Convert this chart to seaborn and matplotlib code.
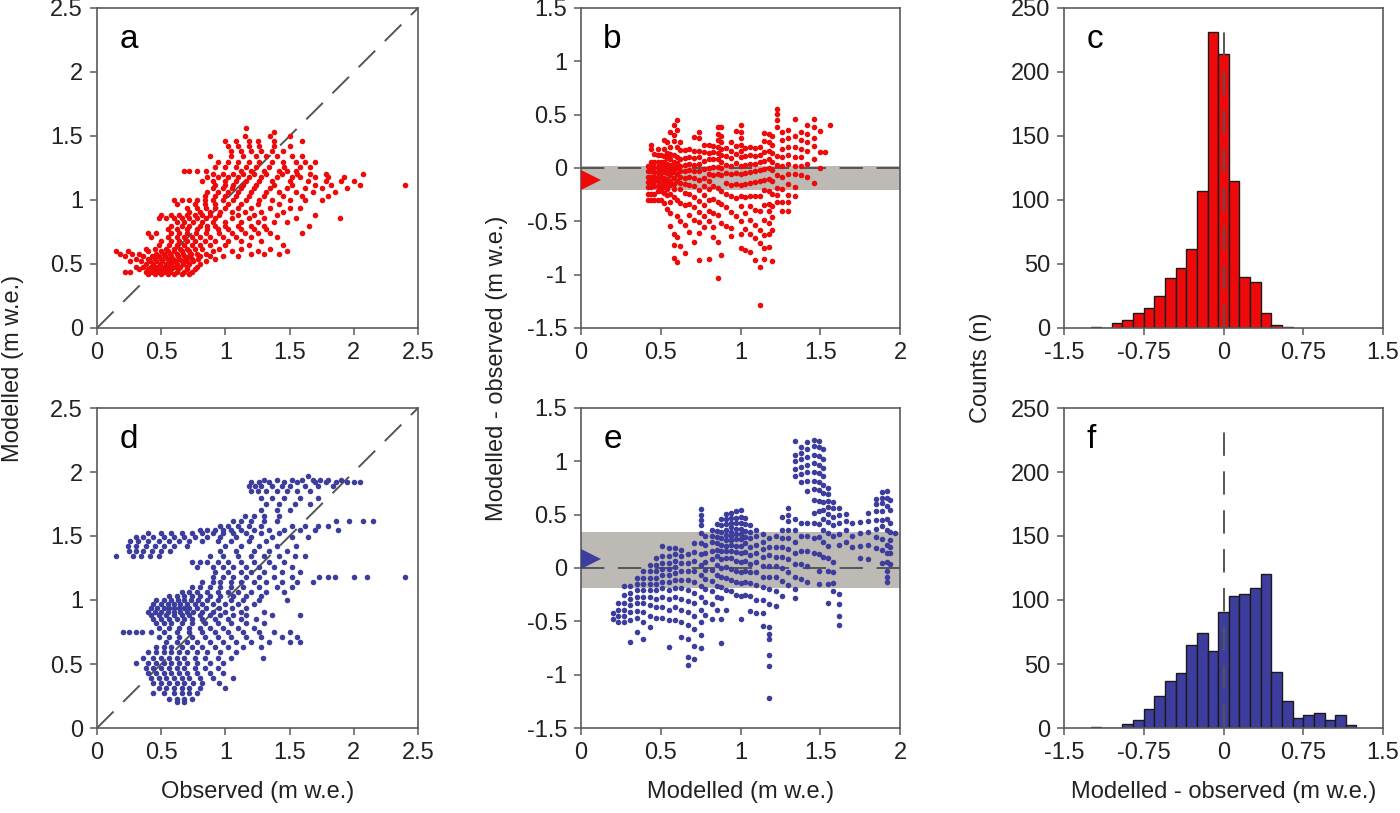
import numpy as np
import pandas as pd
import matplotlib
matplotlib.use("Agg")
import matplotlib.pyplot as plt
import matplotlib.transforms as mtransforms
import seaborn as sns

# ---- data ----
# scatter points grouped as (modelled value, [observed values along that streak])
red_rows = [
    (0.42, [0.40, 0.45, 0.50, 0.55, 0.60, 0.66, 0.72]),
    (0.44, [0.22, 0.26, 0.38, 0.43, 0.47, 0.52, 0.57, 0.62, 0.68, 0.74]),
    (0.46, [0.33, 0.40, 0.45, 0.50, 0.54, 0.58, 0.63, 0.70, 0.76]),
    (0.48, [0.30, 0.36, 0.42, 0.47, 0.52, 0.56, 0.60, 0.65, 0.70, 0.78]),
    (0.50, [0.38, 0.44, 0.49, 0.54, 0.58, 0.62, 0.67, 0.72, 0.80]),
    (0.52, [0.26, 0.34, 0.41, 0.46, 0.51, 0.56, 0.61, 0.66, 0.70, 0.75, 0.85]),
    (0.54, [0.30, 0.40, 0.45, 0.50, 0.55, 0.59, 0.64, 0.69, 0.74, 0.79, 0.92]),
    (0.56, [0.22, 0.36, 0.43, 0.48, 0.53, 0.58, 0.63, 0.68, 0.72, 0.80, 0.88, 0.98, 1.10]),
    (0.58, [0.18, 0.27, 0.33, 0.46, 0.52, 0.57, 0.62, 0.67, 0.73, 0.78, 0.85, 1.20, 1.30, 1.42]),
    (0.60, [0.15, 0.24, 0.40, 0.50, 0.55, 0.60, 0.66, 0.72, 0.90, 1.05, 1.25, 1.48]),
    (0.62, [0.38, 0.45, 0.54, 0.60, 0.65, 0.70, 0.76, 0.82, 0.95, 1.12, 1.35]),
    (0.65, [0.48, 0.56, 0.62, 0.68, 0.74, 0.80, 0.88, 1.00, 1.18, 1.45]),
    (0.68, [0.50, 0.58, 0.64, 0.70, 0.76, 0.84, 0.92, 1.02, 1.12, 1.28]),
    (0.71, [0.42, 0.55, 0.62, 0.68, 0.74, 0.80, 0.88, 0.98, 1.08, 1.20, 1.40]),
    (0.74, [0.40, 0.46, 0.58, 0.64, 0.70, 0.77, 0.85, 0.95, 1.05, 1.15, 1.25, 1.35, 1.60]),
    (0.77, [0.55, 0.62, 0.70, 0.78, 0.86, 0.94, 1.02, 1.12, 1.22, 1.32]),
    (0.80, [0.58, 0.66, 0.72, 0.80, 0.86, 0.92, 1.00, 1.10, 1.20, 1.30, 1.65]),
    (0.83, [0.62, 0.68, 0.75, 0.82, 0.90, 1.00, 1.12, 1.25, 1.38, 1.48]),
    (0.86, [0.48, 0.54, 0.60, 0.66, 0.72, 0.78, 0.85, 0.92, 1.05, 1.18, 1.30, 1.55, 1.89]),
    (0.88, [0.50, 0.58, 0.64, 0.70, 0.76, 0.82, 0.88, 0.95, 1.10, 1.22, 1.40, 1.70]),
    (0.91, [0.72, 0.80, 0.88, 0.96, 1.05, 1.15, 1.28, 1.45]),
    (0.94, [0.70, 0.78, 0.85, 0.92, 1.00, 1.10, 1.20, 1.35, 1.50, 1.58]),
    (0.97, [0.62, 0.76, 0.84, 0.92, 1.02, 1.12, 1.25, 1.42]),
    (1.00, [0.60, 0.66, 0.72, 0.78, 0.84, 0.90, 0.98, 1.06, 1.16, 1.26, 1.36, 1.50, 1.62, 1.75]),
    (1.03, [0.84, 0.92, 1.00, 1.08, 1.18, 1.30, 1.45, 1.60, 1.80]),
    (1.06, [0.86, 0.94, 1.02, 1.10, 1.20, 1.32, 1.42, 1.55, 1.68, 1.85]),
    (1.09, [0.90, 0.98, 1.05, 1.12, 1.22, 1.35, 1.48, 1.62, 1.75, 1.95]),
    (1.12, [0.92, 1.00, 1.06, 1.14, 1.24, 1.38, 1.52, 1.70, 1.82, 2.05, 2.40]),
    (1.15, [0.82, 0.90, 1.00, 1.08, 1.16, 1.26, 1.36, 1.50, 1.64, 1.78, 1.90, 2.00]),
    (1.18, [0.86, 0.94, 1.02, 1.10, 1.18, 1.28, 1.40, 1.52, 1.58, 1.70, 1.80, 1.92]),
    (1.20, [0.90, 0.98, 1.06, 1.14, 1.22, 1.32, 1.44, 1.56, 1.66, 1.78, 2.07]),
    (1.23, [0.68, 0.72, 0.78, 0.85, 1.12, 1.20, 1.30, 1.42, 1.48, 1.55]),
    (1.26, [0.92, 1.00, 1.08, 1.16, 1.24, 1.34, 1.46, 1.58, 1.66]),
    (1.30, [0.94, 1.02, 1.10, 1.18, 1.26, 1.36, 1.45, 1.55, 1.62, 1.70]),
    (1.34, [0.88, 1.04, 1.14, 1.24, 1.32, 1.40, 1.52, 1.60]),
    (1.38, [1.04, 1.12, 1.20, 1.28, 1.36, 1.45]),
    (1.42, [1.02, 1.10, 1.18, 1.26, 1.38, 1.50]),
    (1.46, [1.00, 1.08, 1.18, 1.25, 1.38, 1.60]),
    (1.50, [1.15, 1.35, 1.50]),
    (1.53, [1.38]),
    (1.56, [1.16]),
]

blue_rows = [
    (1.97, [1.64]),
    (1.94, [1.30, 1.40, 1.52, 1.60, 1.68, 1.74, 1.80, 1.90]),
    (1.92, [1.20, 1.26, 1.34, 1.46, 1.56, 1.70, 1.78, 1.86, 1.95, 2.00, 2.05]),
    (1.89, [1.18, 1.23, 1.28, 1.36, 1.44, 1.50, 1.62, 1.72, 1.84]),
    (1.85, [1.20, 1.25, 1.32, 1.40, 1.48, 1.56, 1.66]),
    (1.80, [1.28, 1.36, 1.46, 1.58, 1.72]),
    (1.75, [1.32, 1.42, 1.54, 1.66]),
    (1.70, [1.28, 1.40, 1.50]),
    (1.66, [1.15, 1.22, 1.30, 1.42]),
    (1.62, [1.06, 1.12, 1.20, 1.30, 1.40, 1.86, 1.96, 2.07, 2.15]),
    (1.58, [0.96, 1.02, 1.10, 1.18, 1.28, 1.52, 1.62, 1.72, 1.80]),
    (1.55, [0.80, 0.86, 0.92, 0.98, 1.04, 1.12, 1.22, 1.34, 1.46, 1.58, 1.70, 1.88]),
    (1.52, [0.40, 0.50, 0.58, 0.66, 0.74, 0.82, 0.90, 0.98, 1.06, 1.16, 1.28, 1.42]),
    (1.49, [0.30, 0.36, 0.44, 0.52, 0.60, 0.68, 0.76, 0.86, 0.96, 1.08, 1.20, 1.36, 1.52, 1.64]),
    (1.46, [0.26, 0.32, 0.40, 0.48, 0.56, 0.64, 0.72, 0.82, 0.94, 1.04, 1.18, 1.32]),
    (1.42, [0.24, 0.30, 0.38, 0.45, 0.52, 0.60, 0.70, 1.00, 1.12, 1.26, 1.40, 1.55]),
    (1.38, [0.25, 0.30, 0.36, 0.43, 0.50, 0.57, 0.96, 1.08, 1.22, 1.34, 1.48]),
    (1.34, [0.15, 0.28, 0.34, 0.41, 0.48, 0.88, 0.98, 1.10, 1.20, 1.30, 1.42, 1.54, 1.62]),
    (1.30, [0.74, 0.80, 0.86, 0.94, 1.02, 1.12, 1.22, 1.34, 1.46]),
    (1.26, [0.78, 0.90, 0.98, 1.06, 1.16, 1.26, 1.38, 1.52]),
    (1.22, [0.92, 1.02, 1.12, 1.20, 1.30, 1.44, 1.58]),
    (1.18, [0.90, 0.98, 1.06, 1.16, 1.26, 1.38, 1.52, 1.73, 1.80, 1.85, 2.00, 2.10, 2.40]),
    (1.14, [0.82, 0.90, 0.96, 1.04, 1.12, 1.22, 1.32, 1.44, 1.56, 1.68]),
    (1.10, [0.74, 0.80, 0.88, 0.96, 1.04, 1.14, 1.26, 1.40, 1.52]),
    (1.06, [0.66, 0.72, 0.78, 0.86, 0.94, 1.02, 1.10, 1.20, 1.32, 1.46]),
    (1.03, [0.56, 0.62, 0.68, 0.74, 0.80, 0.88, 0.96, 1.06, 1.16, 1.28]),
    (1.00, [0.46, 0.52, 0.58, 0.63, 0.68, 0.73, 0.79, 0.86, 0.94, 1.04, 1.14, 1.26, 1.48]),
    (0.97, [0.44, 0.50, 0.55, 0.60, 0.65, 0.70, 0.76, 0.82, 0.90, 1.00, 1.10, 1.22]),
    (0.94, [0.42, 0.47, 0.52, 0.56, 0.60, 0.64, 0.68, 0.72, 0.78, 0.85, 0.95, 1.05, 1.16]),
    (0.91, [0.40, 0.45, 0.50, 0.55, 0.60, 0.65, 0.70, 0.75, 0.82, 0.90, 1.00, 1.12, 1.30]),
    (0.88, [0.42, 0.48, 0.54, 0.60, 0.66, 0.72, 0.80, 0.88, 0.96, 1.06, 1.16, 1.36, 1.58]),
    (0.85, [0.44, 0.50, 0.56, 0.62, 0.68, 0.74, 0.82, 0.92, 1.02, 1.12, 1.24]),
    (0.82, [0.46, 0.52, 0.58, 0.66, 0.74, 0.84, 0.94, 1.04, 1.16, 1.30]),
    (0.78, [0.48, 0.56, 0.64, 0.72, 0.80, 0.88, 0.98, 1.10, 1.22]),
    (0.75, [0.20, 0.25, 0.30, 0.35, 0.42, 0.52, 0.62, 0.72, 0.82, 0.92, 1.02, 1.14, 1.26, 1.38, 1.50]),
    (0.71, [0.48, 0.56, 0.64, 0.74, 0.84, 0.94, 1.04, 1.16, 1.28, 1.44, 1.56]),
    (0.67, [0.54, 0.62, 0.70, 0.78, 0.88, 0.98, 1.08, 1.20, 1.34, 1.50, 1.58]),
    (0.63, [0.46, 0.52, 0.58, 0.66, 0.74, 0.82, 0.92, 1.02, 1.14, 1.28]),
    (0.59, [0.40, 0.46, 0.52, 0.58, 0.64, 0.70, 0.78, 0.86, 0.96, 1.08]),
    (0.55, [0.36, 0.44, 0.50, 0.56, 0.62, 0.68, 0.76, 0.84, 0.94, 1.04, 1.29]),
    (0.51, [0.30, 0.40, 0.46, 0.52, 0.58, 0.64, 0.70, 0.78, 0.88, 0.98]),
    (0.47, [0.38, 0.44, 0.50, 0.56, 0.62, 0.68, 0.76, 0.84, 0.94]),
    (0.43, [0.40, 0.46, 0.52, 0.58, 0.64, 0.70, 0.78, 0.88, 0.98]),
    (0.39, [0.42, 0.48, 0.54, 0.60, 0.66, 0.72, 0.80, 0.90, 1.06]),
    (0.35, [0.44, 0.50, 0.56, 0.62, 0.68, 0.75, 0.82, 0.95]),
    (0.31, [0.48, 0.54, 0.60, 0.66, 0.72, 0.80, 1.00]),
    (0.27, [0.44, 0.52, 0.60, 0.66, 0.72, 0.78]),
    (0.23, [0.56, 0.62, 0.68, 0.74]),
    (0.20, [0.62, 0.68]),
]

# histogram of modelled - observed (bin centres, counts), bin width 0.1
red_hist_centers = [-1.2, -1.1, -1.0, -0.9, -0.8, -0.7, -0.6, -0.5, -0.4, -0.3,
                    -0.2, -0.1, 0.0, 0.1, 0.2, 0.3, 0.4, 0.5, 0.6]
red_hist_counts = [1, 0, 4, 6, 12, 16, 25, 39, 47, 62,
                   107, 231, 214, 115, 40, 36, 12, 2, 1]
blue_hist_centers = [-1.2, -1.1, -1.0, -0.9, -0.8, -0.7, -0.6, -0.5, -0.4, -0.3,
                     -0.2, -0.1, 0.0, 0.1, 0.2, 0.3, 0.4, 0.5, 0.6, 0.7,
                     0.8, 0.9, 1.0, 1.1, 1.2]
blue_hist_counts = [1, 0, 0, 3, 6, 15, 25, 37, 43, 65,
                    74, 60, 91, 103, 105, 109, 120, 44, 21, 8,
                    10, 12, 6, 10, 2]
bin_width = 0.1

# mean residual (triangle) and shaded band
red_mean = -0.11
red_band = (-0.205, 0.02)
blue_mean = 0.084
blue_band = (-0.19, 0.334)
hist_zero_line_top = 238

obs_ticks = [0, 0.5, 1, 1.5, 2, 2.5]
obs_ticklabels = ["0", "0.5", "1", "1.5", "2", "2.5"]
res_ticks = [-1.5, -1, -0.5, 0, 0.5, 1, 1.5]
res_ticklabels = ["-1.5", "-1", "-0.5", "0", "0.5", "1", "1.5"]
mod_ticks = [0, 0.5, 1, 1.5, 2]
mod_ticklabels = ["0", "0.5", "1", "1.5", "2"]
hist_xticks = [-1.5, -0.75, 0, 0.75, 1.5]
hist_xticklabels = ["-1.5", "-0.75", "0", "0.75", "1.5"]
count_ticks = [0, 50, 100, 150, 200, 250]
count_ticklabels = ["0", "50", "100", "150", "200", "250"]

RED = "#ee0a0a"
BLUE = "#3d3d9e"
BAND = "#bdb9b5"
DASH = "#555555"
SPINE = "#5a5a5a"
TEXT = "#222222"
FS = 17
DOT = 16


def unpack(rows):
    obs = np.array([o for m, vals in rows for o in vals])
    mod = np.array([m for m, vals in rows for o in vals])
    return obs, mod


def style_axes(ax, xticks, xlabels, yticks, ylabels, xlim, ylim):
    ax.set_xlim(*xlim)
    ax.set_ylim(*ylim)
    ax.set_xticks(xticks)
    ax.set_xticklabels(xlabels)
    ax.set_yticks(yticks)
    ax.set_yticklabels(ylabels)
    ax.tick_params(direction="out", length=5, width=1.1, color=SPINE,
                   labelsize=FS, labelcolor=TEXT, pad=5,
                   bottom=True, left=True)
    for sp in ax.spines.values():
        sp.set_color(SPINE)
        sp.set_linewidth(1.2)
        sp.set_visible(True)
    ax.set_xlabel("")
    ax.set_ylabel("")


def panel_letter(ax, letter):
    ax.text(0.07, 0.875, letter, transform=ax.transAxes, fontsize=24,
            color="black", ha="left", va="baseline")


def scatter_panel(ax, obs, mod, color, letter):
    ax.plot([0, 2.5], [0, 2.5], color=DASH, lw=1.4, ls=(0, (12, 7)), zorder=1)
    sns.scatterplot(x=obs, y=mod, ax=ax, color=color, s=DOT, linewidth=0,
                    zorder=3, legend=False)
    style_axes(ax, obs_ticks, obs_ticklabels, obs_ticks, obs_ticklabels,
               (0, 2.5), (0, 2.5))
    panel_letter(ax, letter)


def residual_panel(ax, obs, mod, color, mean, band, letter):
    ax.axhspan(band[0], band[1], color=BAND, lw=0, zorder=0)
    ax.axhline(0, color=DASH, lw=1.4, ls=(0, (12, 7)), zorder=1)
    sns.scatterplot(x=mod, y=mod - obs, ax=ax, color=color, s=DOT, linewidth=0,
                    zorder=3, legend=False)
    offset = mtransforms.ScaledTranslation(7.5 / 72, 0, ax.figure.dpi_scale_trans)
    ax.plot([0], [mean], marker=">", ms=15, color=color, mew=0, clip_on=False,
            zorder=5, transform=ax.transData + offset)
    style_axes(ax, mod_ticks, mod_ticklabels, res_ticks, res_ticklabels,
               (0, 2), (-1.5, 1.5))
    panel_letter(ax, letter)


def hist_panel(ax, centers, counts, color, letter):
    df = pd.DataFrame({"resid": centers, "n": counts})
    lo = df["resid"].min() - bin_width / 2
    hi = df["resid"].max() + bin_width / 2
    sns.histplot(data=df, x="resid", weights="n", binwidth=bin_width,
                 binrange=(lo, hi), ax=ax, color=color, edgecolor="#1a1a1a",
                 linewidth=1.0, alpha=1, zorder=2)
    ax.plot([0, 0], [0, hist_zero_line_top], color=DASH, lw=1.4,
            ls=(0, (12, 8)), zorder=4)
    style_axes(ax, hist_xticks, hist_xticklabels, count_ticks, count_ticklabels,
               (-1.5, 1.5), (0, 250))
    panel_letter(ax, letter)


def main():
    sns.set_theme(style="white")
    plt.rcParams["font.family"] = ["Liberation Sans", "DejaVu Sans"]
    plt.rcParams["axes.unicode_minus"] = False

    red_obs, red_mod = unpack(red_rows)
    blue_obs, blue_mod = unpack(blue_rows)

    fig = plt.figure(figsize=(14, 8.13), dpi=100)
    W, H = 1400, 813
    lefts = [97, 581, 1064]
    widths = [321, 319, 319]
    tops = [8, 408]
    height = 320

    axes = {}
    for r, top in enumerate(tops):
        for c, left in enumerate(lefts):
            axes[(r, c)] = fig.add_axes([left / W, (H - top - height) / H,
                                         widths[c] / W, height / H])

    scatter_panel(axes[(0, 0)], red_obs, red_mod, RED, "a")
    residual_panel(axes[(0, 1)], red_obs, red_mod, RED, red_mean, red_band, "b")
    hist_panel(axes[(0, 2)], red_hist_centers, red_hist_counts, RED, "c")
    scatter_panel(axes[(1, 0)], blue_obs, blue_mod, BLUE, "d")
    residual_panel(axes[(1, 1)], blue_obs, blue_mod, BLUE, blue_mean, blue_band, "e")
    hist_panel(axes[(1, 2)], blue_hist_centers, blue_hist_counts, BLUE, "f")

    axes[(1, 0)].set_xlabel("Observed (m w.e.)", fontsize=FS, color=TEXT, labelpad=12)
    axes[(1, 1)].set_xlabel("Modelled (m w.e.)", fontsize=FS, color=TEXT, labelpad=12)
    axes[(1, 2)].set_xlabel("Modelled - observed (m w.e.)", fontsize=FS,
                            color=TEXT, labelpad=12)

    ymid = 1 - 368 / H
    fig.text(13 / W, ymid, "Modelled (m w.e.)", rotation=90, ha="center",
             va="center", fontsize=FS, color=TEXT)
    fig.text(497 / W, ymid, "Modelled - observed (m w.e.)", rotation=90,
             ha="center", va="center", fontsize=FS, color=TEXT)
    fig.text(981 / W, ymid, "Counts (n)", rotation=90, ha="center",
             va="center", fontsize=FS, color=TEXT)

    fig.savefig("out.png", dpi=100)
    plt.close(fig)


if __name__ == "__main__":
    main()
